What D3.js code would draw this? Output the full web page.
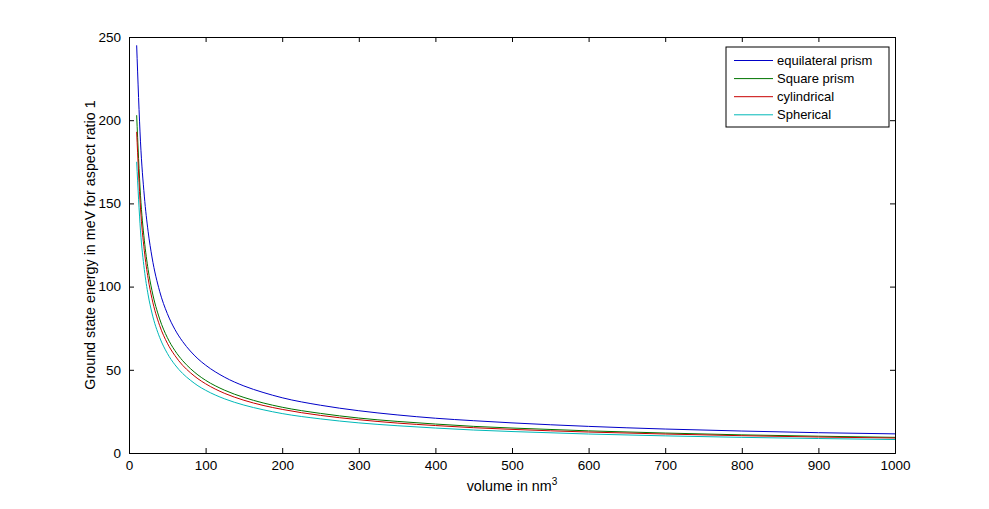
<!DOCTYPE html>
<html>
<head>
<meta charset="utf-8">
<script src="https://cdn.jsdelivr.net/npm/d3@7"></script>
<style>
  body { margin: 0; background: #fff; }
  svg { display: block; font-family: "Liberation Sans", Arial, sans-serif; }
</style>
</head>
<body>
<div id="chart"></div>
<script>
// volume in nm^3 (x positions of the sampled points)
const volume = [10, 15, 20, 25, 30, 40, 50, 60, 70, 80, 90, 100, 125, 150, 175, 200,
  250, 300, 350, 400, 450, 500, 600, 700, 800, 900, 1000];

// ground state energy in meV
const equilateral = [245, 187, 154.4, 133, 117.8, 97.2, 83.8, 74.2, 67, 61.3, 56.6, 52.8,
  45.5, 40.3, 36.4, 33.2, 28.7, 25.4, 22.9, 20.9, 19.4, 18.1, 16.0, 14.4, 13.2, 12.2, 11.5];
const square = [203, 154.9, 127.9, 110.2, 97.6, 80.6, 69.4, 61.5, 55.5, 50.8, 46.9, 43.7,
  37.7, 33.4, 30.1, 27.5, 23.8, 21.0, 19.0, 17.4, 16.0, 15.0, 13.3, 12.0, 10.9, 10.1, 9.4];
const cylindrical = [193, 147.3, 121.6, 104.8, 92.8, 76.6, 66.0, 58.5, 52.7, 48.3, 44.6, 41.6,
  35.8, 31.7, 28.6, 26.2, 22.6, 20.0, 18.0, 16.5, 15.2, 14.2, 12.6, 11.4, 10.4, 9.6, 9.0];
const spherical = [175, 133.5, 110.3, 95.0, 84.1, 69.5, 59.9, 53.0, 47.8, 43.8, 40.4, 37.7,
  32.5, 28.8, 26.0, 23.7, 20.5, 18.1, 16.4, 15.0, 13.8, 12.9, 11.4, 10.3, 9.4, 8.7, 8.1];

const seriesNames = ["equilateral prism", "Square prism", "cylindrical", "Spherical"];
const seriesColors = ["#0000c8", "#007400", "#c80000", "#00b8b8"];

const xTicks = [0, 100, 200, 300, 400, 500, 600, 700, 800, 900, 1000];
const yTicks = [0, 50, 100, 150, 200, 250];

const series = [equilateral, square, cylindrical, spherical].map((vals, i) => ({
  name: seriesNames[i],
  color: seriesColors[i],
  points: volume.map((v, j) => [v, vals[j]])
}));

const W = 989, H = 509;
const margin = { left: 129, right: 94, top: 37, bottom: 56 };
const iw = W - margin.left - margin.right;
const ih = H - margin.top - margin.bottom;

const svg = d3.select("#chart").append("svg")
  .attr("width", W)
  .attr("height", H);

const g = svg.append("g").attr("transform", `translate(${margin.left},${margin.top})`);

const x = d3.scaleLinear().domain([0, 1000]).range([0, iw]);
const y = d3.scaleLinear().domain([0, 250]).range([ih, 0]);

// axes with inward ticks, MATLAB-like box
const tick = 5;
g.append("g").attr("transform", `translate(0,${ih})`)
  .call(d3.axisBottom(x).tickValues(xTicks).tickFormat(d3.format("d"))
    .tickSize(-tick).tickPadding(tick + 2));
g.append("g")
  .call(d3.axisLeft(y).tickValues(yTicks).tickSize(-tick).tickPadding(tick + 3));
g.append("g")
  .call(d3.axisTop(x).tickValues(xTicks).tickSize(-tick).tickFormat(""));
g.append("g").attr("transform", `translate(${iw},0)`)
  .call(d3.axisRight(y).tickValues(yTicks).tickSize(-tick).tickFormat(""));

g.selectAll(".domain").attr("stroke", "#000").attr("stroke-width", 1);
g.selectAll(".tick line").attr("stroke", "#000");
g.selectAll(".tick text").attr("font-size", 13.5).attr("fill", "#000")
  .attr("font-family", "Liberation Sans, Arial, sans-serif");

// curves
const line = d3.line()
  .x(d => x(d[0]))
  .y(d => y(d[1]))
  .curve(d3.curveMonotoneX);

g.append("g").selectAll("path")
  .data(series)
  .join("path")
  .attr("d", d => line(d.points))
  .attr("fill", "none")
  .attr("stroke", d => d.color)
  .attr("stroke-width", 1);

// axis labels
const xl = svg.append("text")
  .attr("x", margin.left + iw / 2)
  .attr("y", 491)
  .attr("text-anchor", "middle")
  .attr("font-size", 14.3);
xl.append("tspan").text("volume in nm");
xl.append("tspan").attr("dy", -6).attr("font-size", 10).text("3");

svg.append("text")
  .attr("transform", `translate(95,${margin.top + ih / 2}) rotate(-90)`)
  .attr("text-anchor", "middle")
  .attr("font-size", 14.3)
  .text("Ground state energy in meV for aspect ratio 1");

// legend
const legend = svg.append("g").attr("transform", "translate(726,47)");
legend.append("rect")
  .attr("width", 163).attr("height", 80)
  .attr("fill", "#fff").attr("stroke", "#000");

const item = legend.selectAll("g.item")
  .data(series)
  .join("g")
  .attr("class", "item")
  .attr("transform", (d, i) => `translate(0,${13.5 + i * 18.1})`);
item.append("line")
  .attr("x1", 8).attr("x2", 47)
  .attr("stroke", d => d.color);
item.append("text")
  .attr("x", 51).attr("dy", "0.35em")
  .attr("font-size", 13)
  .text(d => d.name);
</script>
</body>
</html>
